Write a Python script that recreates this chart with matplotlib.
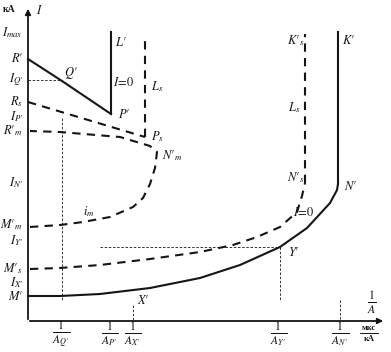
import matplotlib
matplotlib.use('Agg')
import matplotlib.pyplot as plt

plt.rcParams['mathtext.fontset'] = 'stix'
plt.rcParams['font.family'] = ['Liberation Serif', 'DejaVu Serif']

ink = '#151515'

# curve points (x to the right, y downwards)
rp_x = [28, 62, 111]
rp_y = [59, 81, 114]
lp_x = [111, 111]
lp_y = [114, 32]

rs_x = [28, 145]
rs_y = [102, 137]
ls_x = [145, 145]
ls_y = [137, 36]

im_x = [30, 60, 83, 110, 133, 143, 150, 155, 157, 150, 120, 60, 30]
im_y = [227, 225, 222, 217, 207, 198, 184, 168, 152, 146, 137, 132, 131]

ms_x = [30, 60, 100, 150, 200, 233, 257, 280, 297, 302, 305]
ms_y = [269, 268, 265, 259, 252, 245, 237, 227, 212, 196, 183]
ks_x = [305, 305]
ks_y = [183, 34]

m_x = [28, 60, 100, 150, 200, 240, 280, 307, 330, 337, 338]
m_y = [296, 296, 294, 288, 278, 265, 247, 228, 203, 190, 184]
k_x = [338, 338]
k_y = [184, 32]

y_labels = [r"$I_{max}$", r"$R′$", r"$I_{Q′}$", r"$R_s$", r"$I_{P′}$", r"$R′_m$",
            r"$I_{N′}$", r"$M′_m$", r"$I_{Y′}$", r"$M′_s$", r"$I_{X′}$", r"$M′$"]
y_label_pos = [33, 59, 80, 102, 117, 131, 183, 225, 241, 269, 283, 296]

x_labels = [r"$\frac{1}{A_{Q′}}$", r"$\frac{1}{A_{P′}}$", r"$\frac{1}{A_{X′}}$",
            r"$\frac{1}{A_{Y′}}$", r"$\frac{1}{A_{N′}}$"]
x_label_pos = [61, 110, 133, 279, 340]

fig = plt.figure(figsize=(3.91, 3.52), dpi=100)
ax = fig.add_axes([0, 0, 1, 1])
ax.set_xlim(0, 391)
ax.set_ylim(352, 0)
ax.axis('off')

# axes with arrows
ax.annotate('', xy=(28, 6), xytext=(28, 322),
            arrowprops=dict(arrowstyle='-|>', color=ink, lw=1.3, mutation_scale=8))
ax.annotate('', xy=(386, 321), xytext=(27, 321),
            arrowprops=dict(arrowstyle='-|>', color=ink, lw=1.3, mutation_scale=8))

# solid curves
ax.plot(rp_x, rp_y, color=ink, lw=1.5)
ax.plot(lp_x, lp_y, color=ink, lw=1.5)
ax.plot(m_x, m_y, color=ink, lw=1.5)
ax.plot(k_x, k_y, color=ink, lw=1.5)

# dashed curves
dash = dict(color=ink, lw=1.5, ls=(0, (4, 3)))
ax.plot(rs_x, rs_y, **dash)
ax.plot(ls_x, ls_y, **dash)
ax.plot(im_x, im_y, **dash)
ax.plot(ms_x, ms_y, **dash)
ax.plot(ks_x, ks_y, **dash)

# thin guide lines
thin = dict(color=ink, lw=0.6, ls=(0, (3, 2)))
ax.plot([28, 62], [80, 80], **thin)
ax.plot([62, 62], [118, 300], **thin)
ax.plot([100, 280], [247, 247], **thin)
ax.plot([280, 280], [247, 300], **thin)
ax.plot([133, 133], [305, 321], **thin)
ax.plot([340, 340], [300, 321], **thin)

fs = 9
for lab, y in zip(y_labels, y_label_pos):
    ax.text(23, y, lab, ha='right', va='center', fontsize=fs, color=ink)
ax.text(3, 10, 'кА', ha='left', va='center', fontsize=7, color=ink, weight='bold')
ax.text(36, 10, r'$I$', ha='left', va='center', fontsize=fs, color=ink)

for lab, x in zip(x_labels, x_label_pos):
    ax.text(x, 335, lab, ha='center', va='center', fontsize=12, color=ink)
ax.text(372, 303, r'$\frac{1}{A}$', ha='center', va='center', fontsize=12, color=ink)
ax.text(369, 328, 'мкс', ha='center', va='center', fontsize=6, color=ink, weight='bold')
ax.plot([360, 378], [333, 333], color=ink, lw=0.7)
ax.text(369, 339, 'кА', ha='center', va='center', fontsize=6, color=ink, weight='bold')

# point / curve labels
pts = [(r"$Q′$", 64, 73), (r"$P′$", 118, 114), (r"$L′$", 115, 42), (r"$I\!=\!0$", 113, 83),
       (r"$L_s$", 151, 87), (r"$P_s$", 151, 137), (r"$N′_m$", 162, 156), (r"$i_m$", 83, 212),
       (r"$K′_s$", 287, 41), (r"$L_s$", 288, 108), (r"$N′_s$", 287, 178),
       (r"$K′$", 342, 41), (r"$N′$", 344, 186), (r"$I\!=\!0$", 293, 213),
       (r"$Y′$", 288, 253), (r"$X′$", 137, 300)]
for lab, x, y in pts:
    ax.text(x, y, lab, ha='left', va='center', fontsize=fs, color=ink)

fig.savefig('out.png', dpi=100, facecolor='white')
